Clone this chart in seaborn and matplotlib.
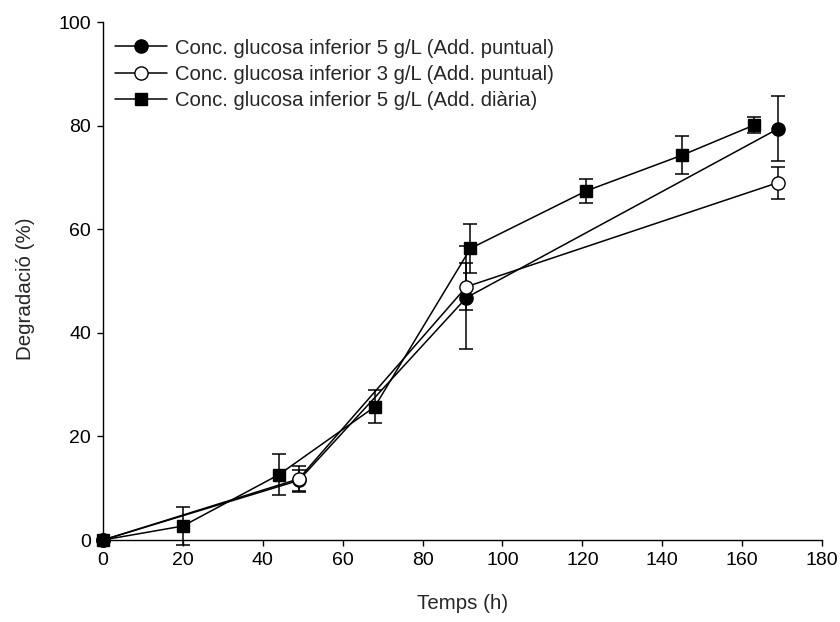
import numpy as np
import pandas as pd
import matplotlib
matplotlib.use("Agg")
import matplotlib.pyplot as plt
import seaborn as sns

# ---- data ----
labels = ["Conc. glucosa inferior 5 g/L (Add. puntual)",
          "Conc. glucosa inferior 3 g/L (Add. puntual)",
          "Conc. glucosa inferior 5 g/L (Add. diària)"]

t_5p = [0, 49, 91, 169]
y_5p = [0, 11.5, 46.8, 79.4]
e_5p = [0, 2.0, 10.0, 6.3]

t_3p = [0, 49, 91, 169]
y_3p = [0, 11.8, 48.9, 69.0]
e_3p = [0, 2.5, 4.5, 3.1]

t_5d = [0, 20, 44, 68, 92, 121, 145, 163]
y_5d = [0, 2.7, 12.6, 25.7, 56.3, 67.4, 74.3, 80.1]
e_5d = [0, 3.6, 4.0, 3.2, 4.8, 2.3, 3.7, 1.6]

x_ticks = [0, 20, 40, 60, 80, 100, 120, 140, 160, 180]
y_ticks = [0, 20, 40, 60, 80, 100]

sns.set_style("ticks")
plt.rcParams['font.family'] = ['Liberation Sans', 'DejaVu Sans']

fig = plt.figure(figsize=(8.4, 6.22), dpi=100)
ax = fig.add_axes([0.1226, 0.1318, 0.856, 0.8328])

series = [
    (t_5p, y_5p, e_5p, labels[0], dict(marker='o', markersize=9.5, markerfacecolor='black', markeredgecolor='black')),
    (t_3p, y_3p, e_3p, labels[1], dict(marker='o', markersize=9.5, markerfacecolor='white', markeredgecolor='black')),
    (t_5d, y_5d, e_5d, labels[2], dict(marker='s', markersize=8.5, markerfacecolor='black', markeredgecolor='black')),
]

z = 3
for t, y, e, lab, mk in series:
    df = pd.DataFrame({"t": t, "y": y, "e": e})
    sub = df[df["e"] > 0]
    ax.errorbar(sub["t"], sub["y"], yerr=sub["e"], fmt='none', ecolor='black',
                elinewidth=1.1, capsize=5, capthick=1.1, zorder=z, clip_on=False)
    sns.lineplot(data=df, x="t", y="y", ax=ax, color='black', linewidth=1.1,
                 label=lab, sort=False, estimator=None, zorder=z + 0.5,
                 clip_on=False, markeredgewidth=1.0, **mk)
    z += 1

ax.set_xlim(0, 180)
ax.set_ylim(0, 100)
ax.set_xticks(x_ticks)
ax.set_yticks(y_ticks)
ax.tick_params(axis='both', direction='out', length=4.5, width=1, labelsize=14, colors='black', pad=4)
for s in ['top', 'right']:
    ax.spines[s].set_visible(False)
for s in ['left', 'bottom']:
    ax.spines[s].set_linewidth(1.0)
    ax.spines[s].set_color('black')

ax.set_xlabel("Temps (h)", fontsize=14.8, labelpad=18)
ax.set_ylabel("Degradació (%)", fontsize=14.8, labelpad=17)
ax.yaxis.label.set_y(0.486)

leg = ax.legend(loc='upper left', frameon=False, fontsize=14.6, handlelength=2.55,
                bbox_to_anchor=(0.0167, 0.968), borderaxespad=0, borderpad=0,
                labelspacing=0.36, handletextpad=0.42)

fig.savefig("out.png", dpi=100)
